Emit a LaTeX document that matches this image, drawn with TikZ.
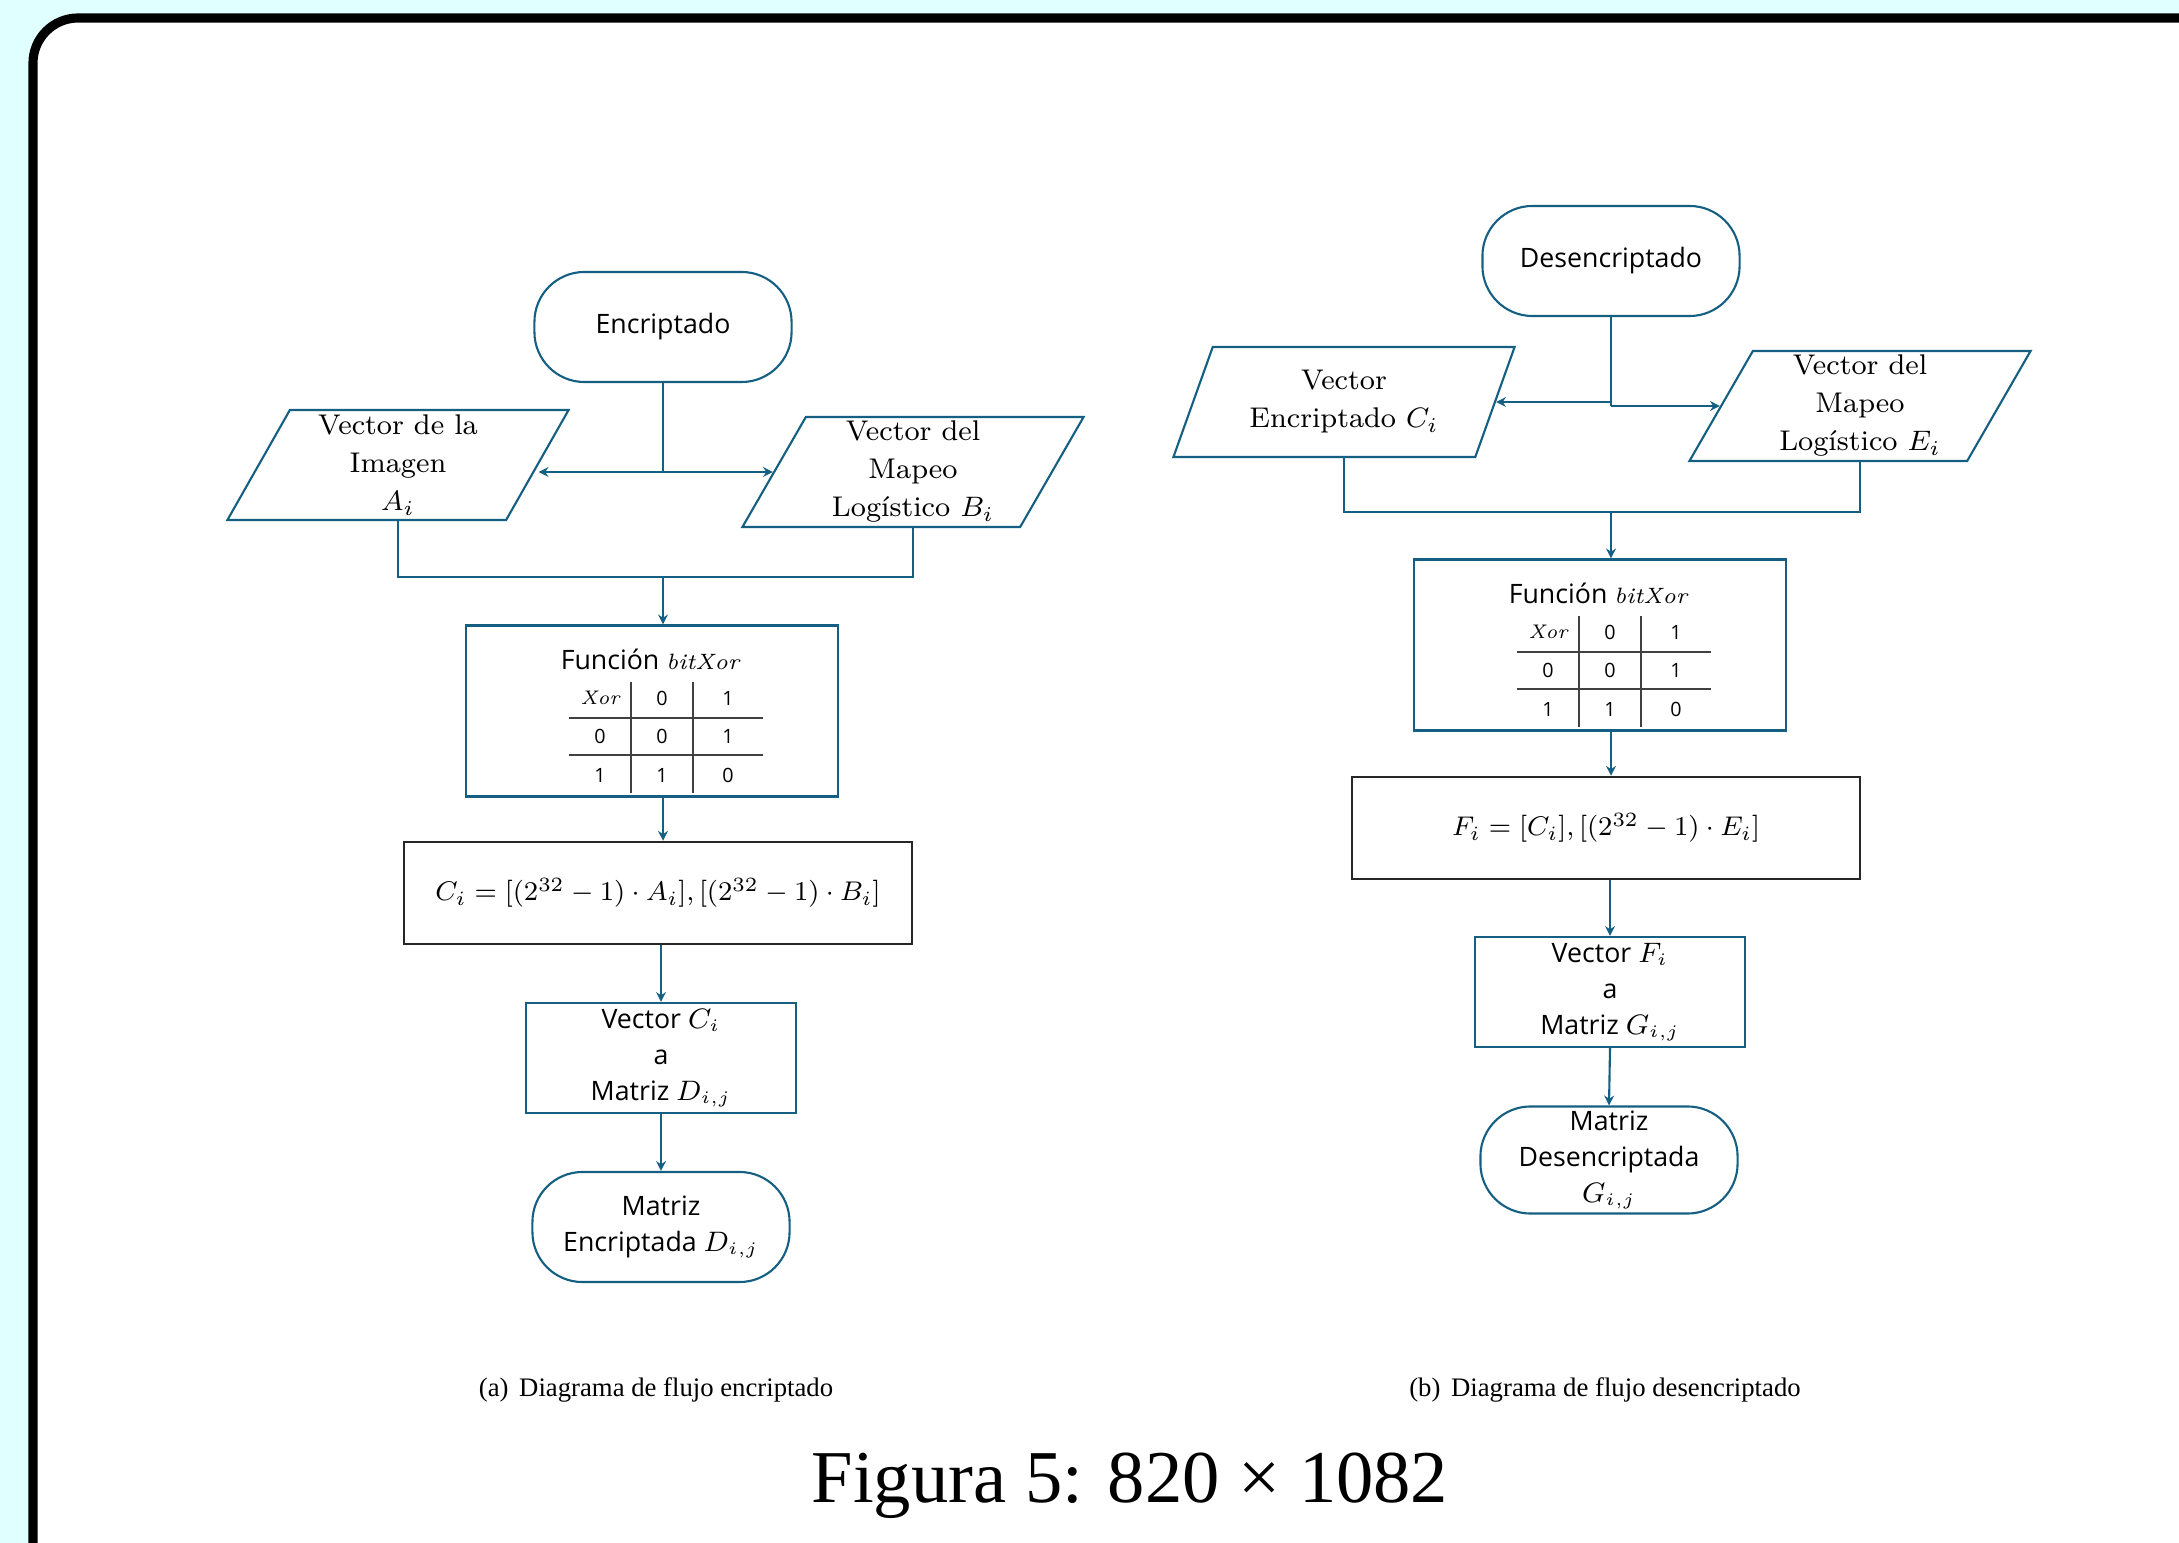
\documentclass[tikz,border=0pt]{standalone}
\usepackage{graphicx}
\usepackage{fontspec}
\usetikzlibrary{shapes.geometric,arrows.meta}
\newfontfamily\flowsans{Open Sans}
\newfontfamily\capserif{Liberation Serif}
\definecolor{flowblue}{HTML}{156082}
\definecolor{pagecyan}{HTML}{E0FFFF}

\tikzset{
  terminal/.style={draw=flowblue, line width=0.6pt, rounded corners=0.5cm,
    minimum width=2.57cm, minimum height=1.1cm, inner sep=1pt, align=center,
    font=\flowsans\fontsize{7.6}{10.2}\selectfont},
  datavec/.style={draw=flowblue, line width=0.6pt, trapezium,
    trapezium left angle=58, trapezium right angle=122,
    trapezium stretches body=true, minimum width=3.41cm, minimum height=1.1cm,
    inner sep=0pt, align=center, font=\fontsize{8.1}{10.8}\selectfont},
  process/.style={draw=flowblue, line width=0.6pt, minimum width=2.69cm,
    minimum height=1.1cm, inner sep=1pt, align=center,
    font=\flowsans\fontsize{7.6}{10.2}\selectfont},
  xorbox/.style={draw=flowblue, line width=0.6pt, minimum width=3.71cm, minimum height=1.71cm},
  formula/.style={draw=black!85, line width=0.7pt, minimum width=5.08cm,
    minimum height=1.02cm, font=\fontsize{8.1}{10}\selectfont},
  link/.style={draw=flowblue, line width=0.6pt},
  flow/.style={link, -{Stealth[length=2.8pt,width=2.8pt]}},
  tablerule/.style={draw=black!75, line width=0.55pt},
  cell/.style={font=\flowsans\fontsize{5.6}{6}\selectfont, inner sep=0pt},
  subcap/.style={font=\capserif\fontsize{7.6}{9}\selectfont},
}

% truth table drawn inside a bitXor box
\newcommand{\xortable}[2]{%
  \begin{scope}[shift={(#1.center)}]
    \node[font=\flowsans\fontsize{7.6}{9}\selectfont] (#2-title) at (-2,-52)
      {Función \scalebox{0.93}{\fontsize{6.8}{8}\selectfont$\mathit{bitXor}$}};
    \draw[tablerule] (-21,-29) -- (-21,82);
    \draw[tablerule] (41,-29) -- (41,82);
    \draw[tablerule] (-83,7) -- (111,7);
    \draw[tablerule] (-83,44) -- (111,44);
    \foreach \a/\b/\c [count=\r from 0] in {$\mathit{Xor}$/0/1, 0/0/1, 1/1/0} {
      \node[cell] (#2-\r-a) at (-52,-13+38.5*\r) {\a};
      \node[cell] (#2-\r-b) at (10,-13+38.5*\r) {\b};
      \node[cell] (#2-\r-c) at (76,-13+38.5*\r) {\c};
    }
  \end{scope}}

\begin{document}
\begin{tikzpicture}[x=0.01cm, y=-0.01cm]
    \useasboundingbox (0,0) rectangle (2179,1543);

    % Page and frame
    \fill[pagecyan] (0,0) rectangle (2179,1543);
    \begin{scope}
        \clip (0,0) rectangle (2179,1543);
        \filldraw[fill=white, draw=black, line width=2.6pt, rounded corners=0.45cm]
            (33,1650) -- (33,18) -- (2300,18) -- (2300,1650) -- cycle;
    \end{scope}

    % (a) Encriptado
    \node[terminal] (enc) at (663,327) {Encriptado};
    \node[datavec] (imgvec) at (398,465) {Vector de la\\Imagen\\$A_i$};
    \node[datavec] (mapvec) at (913,472) {Vector del\\Mapeo\\Logístico $B_i$};
    \node[xorbox] (fun) at (652,711) {};
    \xortable{fun}{fa}
    \node[formula] (eqc) at (658,893) {\scalebox{0.96}{$C_i = [(2^{32}-1)\cdot A_i], [(2^{32}-1)\cdot B_i]$}};
    \node[process] (vecc) at (661,1058) {Vector $C_i$\\a\\Matriz $D_{i,j}$};
    \node[terminal] (matd) at (661,1227) {Matriz\\Encriptada $D_{i,j}$};
    \node[subcap] (capa) at (656,1390) {(a)\hspace{0.4em}Diagrama de flujo encriptado};

    \draw[link] (enc.south) -- (enc.south |- mapvec.west) coordinate (forka);
    \draw[flow] (forka) -- (forka -| imgvec.east);
    \draw[flow] (forka) -- (mapvec.west);
    \draw[link] (imgvec.south) -- ++(0,56) coordinate (joina) -| (mapvec.south);
    \draw[flow] (enc.south |- joina) -- (enc.south |- fun.north);
    \draw[flow] (enc.south |- fun.south) -- (enc.south |- eqc.north);
    \draw[flow] (vecc.north |- eqc.south) -- (vecc.north);
    \draw[flow] (vecc.south) -- (matd.north);

    % (b) Desencriptado
    \node[terminal] (desenc) at (1611,261) {Desencriptado};
    \node[datavec] (encvec) at (1344,402) {Vector\\Encriptado $C_i$};
    \node[datavec] (mapvece) at (1860,406) {Vector del\\Mapeo\\Logístico $E_i$};
    \node[xorbox] (fune) at (1600,645) {};
    \xortable{fune}{fb}
    \node[formula] (eqf) at (1606,828) {\scalebox{0.96}{$F_i = [C_i], [(2^{32}-1)\cdot E_i]$}};
    \node[process] (vecf) at (1610,992) {Vector $F_i$\\a\\Matriz $G_{i,j}$};
    \node[terminal, minimum height=1.07cm] (matg) at (1609,1160) {Matriz\\Desencriptada\\$G_{i,j}$};
    \node[subcap] (capb) at (1605,1390) {(b)\hspace{0.4em}Diagrama de flujo desencriptado};

    \draw[link] (desenc.south) -- (desenc.south |- mapvece.west) coordinate (forkb);
    \draw[flow] (desenc.south |- encvec.east) -- (encvec.east);
    \draw[flow] (forkb) -- (mapvece.west);
    \draw[link] (encvec.south) -- ++(0,54) coordinate (joinb) -| (mapvece.south);
    \draw[flow] (desenc.south |- joinb) -- (desenc.south |- fune.north);
    \draw[flow] (desenc.south |- fune.south) -- (desenc.south |- eqf.north);
    \draw[flow] (vecf.north |- eqf.south) -- (vecf.north);
    \draw[flow] (vecf.south) -- (matg.north);

    % Figure caption
    \node[font=\capserif\fontsize{21.2}{24}\selectfont] (figcap) at (1130,1486) {Figura 5: 820 × 1082};
\end{tikzpicture}
\end{document}
